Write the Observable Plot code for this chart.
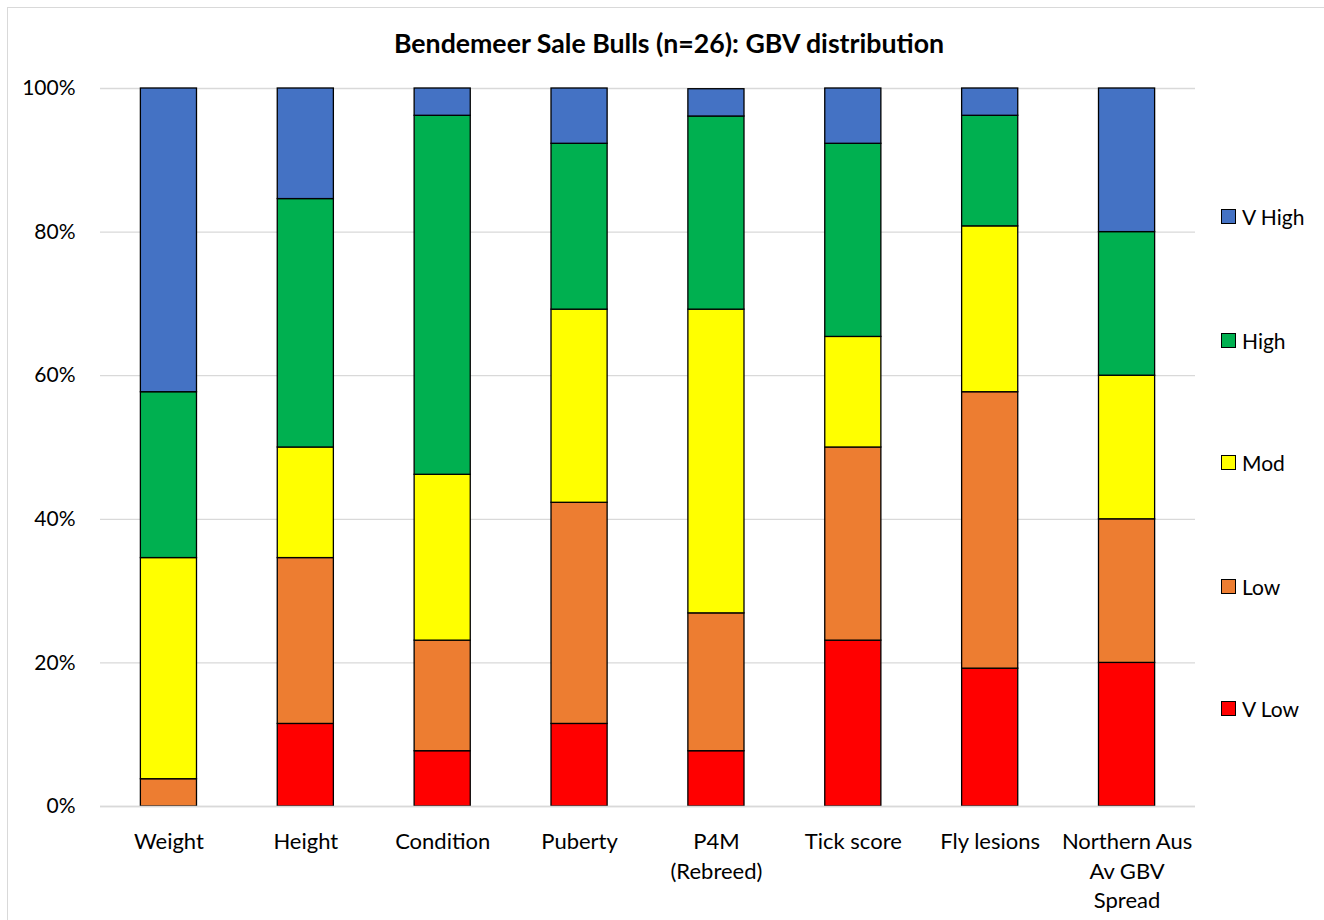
<!DOCTYPE html>
<html>
<head>
<meta charset="utf-8">
<script src="https://cdn.jsdelivr.net/npm/d3@7"></script>
<script src="https://cdn.jsdelivr.net/npm/@observablehq/plot@0.6"></script>
<style>
  body { margin: 0; background: #fff; font-family: Lato, "Open Sans", sans-serif; }
  #wrap { position: relative; width: 1324px; height: 920px; overflow: hidden; }
  #frame { position: absolute; left: 7px; top: 7px; width: 1400px; height: 1000px; border: 1.5px solid #d9d9d9; }
  #title { position: absolute; left: 0; width: 1338px; top: 27px; text-align: center; font-size: 26.7px; font-weight: bold; color: #000; }
  #chart { position: absolute; left: 0; top: 0; }
  .leg { position: absolute; left: 1221px; font-size: 21px; color: #000; display: flex; align-items: center; }
  .leg span.sw { display: inline-block; width: 13px; height: 13px; border: 1px solid #000; margin-right: 6px; }
</style>
</head>
<body>
<div id="wrap">
  <div id="frame"></div>
  <div id="chart"></div>
  <div id="title">Bendemeer Sale Bulls (n=26): GBV distribution</div>
  <div id="legend"></div>
</div>
<script>
const categories = ["Weight", "Height", "Condition", "Puberty", "P4M\n(Rebreed)", "Tick score", "Fly lesions", "Northern Aus\nAv GBV\nSpread"];
const seriesNames = ["V Low", "Low", "Mod", "High", "V High"];
const seriesColors = ["#ff0000", "#ed7d31", "#ffff00", "#00b050", "#4472c4"];
// percentages of the 26 bulls (counts/26), Northern Aus spread 20% each
const vLow  = [0,    11.5, 7.7,  11.5, 7.7,  23.1, 19.2, 20];
const low   = [3.8,  23.1, 15.4, 30.8, 19.2, 26.9, 38.5, 20];
const mod   = [30.8, 15.4, 23.1, 26.9, 42.3, 15.4, 23.1, 20];
const high  = [23.1, 34.6, 50.0, 23.1, 26.9, 26.9, 15.4, 20];
const vHigh = [42.3, 15.4, 3.8,  7.7,  3.8,  7.7,  3.8,  20];
const yTicks = [0, 20, 40, 60, 80, 100];

const seriesValues = [vLow, low, mod, high, vHigh];
const data = [];
seriesNames.forEach((s, si) => categories.forEach((c, ci) => data.push({category: c, series: s, value: seriesValues[si][ci]})));

const chart = Plot.plot({
  width: 1324,
  height: 920,
  marginTop: 88,
  marginBottom: 114,
  marginLeft: 100,
  marginRight: 129,
  style: {fontFamily: "Lato, 'Open Sans', sans-serif", fontSize: "21px", color: "#000", background: "transparent"},
  x: {domain: categories, paddingInner: 0.59, paddingOuter: 0.295, round: false, label: null, tickSize: 0},
  y: {domain: [0, 100], label: null, tickSize: 0},
  color: {domain: seriesNames, range: seriesColors},
  marks: [
    Plot.gridY(yTicks, {stroke: "#d9d9d9", strokeOpacity: 1, strokeWidth: 1.3}),
    Plot.axisY({ticks: yTicks, tickFormat: d => d + "%", tickSize: 0, tickPadding: 25, fontSize: 21, label: null}),
    Plot.axisX({tickSize: 0, tickPadding: 22, fontSize: 22, lineHeight: 1.33, label: null}),
    Plot.barY(data, {x: "category", y: "value", fill: "series", order: seriesNames, stroke: "#000", strokeWidth: 1.3}),
    Plot.ruleY([0], {stroke: "#d9d9d9", strokeWidth: 1.3})
  ]
});
document.getElementById("chart").appendChild(chart);

const legendY = {"V High": 218, "High": 342, "Mod": 464, "Low": 588, "V Low": 710};
const legend = document.getElementById("legend");
seriesNames.slice().reverse().forEach(s => {
  const d = document.createElement("div");
  d.className = "leg";
  d.style.top = (legendY[s] - 14) + "px";
  const sw = document.createElement("span");
  sw.className = "sw";
  sw.style.background = seriesColors[seriesNames.indexOf(s)];
  d.appendChild(sw);
  d.appendChild(document.createTextNode(s));
  legend.appendChild(d);
});
</script>
</body>
</html>
